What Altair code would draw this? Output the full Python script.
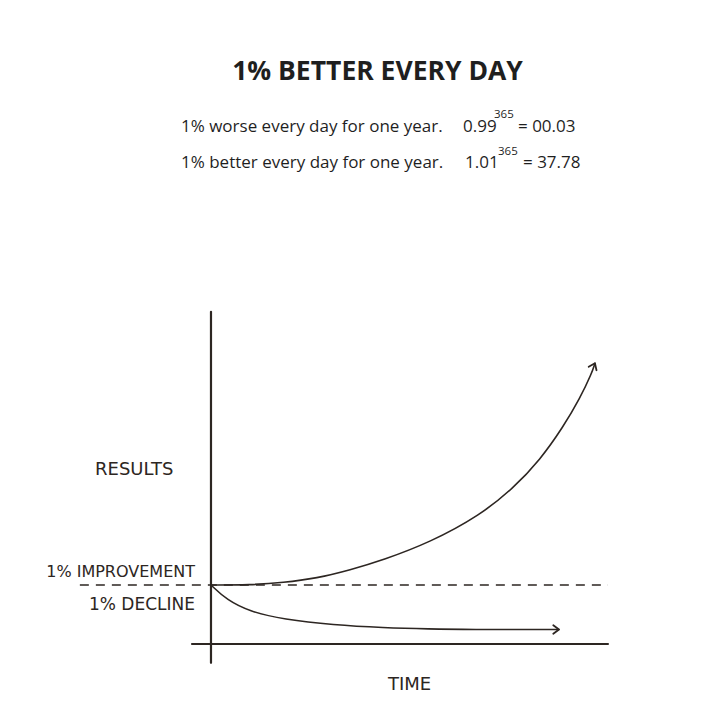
import altair as alt
import pandas as pd

# ---- data (time units, result units; baseline = 1) ----
up_t = [0, 9.9, 18.3, 26.8, 35.2, 43.6, 55.4, 68.1, 76.5, 83.3, 89.2, 93.4, 96.4, 97.2]
up_y = [1.0, 1.0, 1.039, 1.114, 1.254, 1.424, 1.72, 2.18, 2.639, 3.119, 3.683, 4.164, 4.588, 4.758]
down_t = [0, 4.0, 9.9, 18.3, 31.0, 43.6, 55.4, 64.8, 88.1]
down_y = [1.0, 0.746, 0.547, 0.419, 0.322, 0.276, 0.254, 0.245, 0.245]
arrow_t = [97.2, 88.1]
arrow_y = [4.758, 0.245]
arrow_angle = [24, 90]
baseline_t = [-33.2, 100.5]
baseline_y = [1.0, 1.0]
yaxis_t = [0, 0]
yaxis_y = [-0.32, 5.63]
xaxis_t = [-4.8, 100.5]
xaxis_y = [0, 0]

title_text = "1% BETTER EVERY DAY"
row1 = ["1% worse every day for one year.", "0.99", "365", "= 00.03"]
row2 = ["1% better every day for one year.", "1.01", "365", "= 37.78"]
labels = ["RESULTS", "1% IMPROVEMENT", "1% DECLINE", "TIME"]

INK = "#2d2622"
TXT = "#1f1f1f"

xs = alt.Scale(domain=[-51.39, 126.08], nice=False, zero=False)
ys = alt.Scale(domain=[-1.153, 10.78], nice=False, zero=False)

def line_layer(t, y, width=1.6, dash=None, interp="linear"):
    df = pd.DataFrame({"t": t, "y": y, "o": list(range(len(t)))})
    kw = dict(color=INK, strokeWidth=width, interpolate=interp, strokeCap="round")
    if dash:
        kw["strokeDash"] = dash
        kw["strokeCap"] = "butt"
    return alt.Chart(df).mark_line(**kw).encode(
        x=alt.X("t:Q", scale=xs, axis=None),
        y=alt.Y("y:Q", scale=ys, axis=None),
        order="o:Q",
    )

layers = [
    line_layer(yaxis_t, yaxis_y, 2.2),
    line_layer(xaxis_t, xaxis_y, 2.2),
    line_layer(baseline_t, baseline_y, 1.6, [9, 7]),
    line_layer(up_t, up_y, 1.6, interp="basis"),
    line_layer(down_t, down_y, 1.6, interp="basis"),
]

arrows = pd.DataFrame({"t": arrow_t, "y": arrow_y, "a": arrow_angle})
layers.append(
    alt.Chart(arrows).mark_point(
        shape="M-0.75,1L0,0L0.75,1", size=130, filled=False, color=INK,
        strokeWidth=1.8, opacity=1, strokeCap="round", strokeJoin="round",
    ).encode(
        x=alt.X("t:Q", scale=xs, axis=None),
        y=alt.Y("y:Q", scale=ys, axis=None),
        angle=alt.Angle("a:Q", scale=None),
    )
)

def text_layer(txt, x, y, size, align="left", weight="normal", font="Open Sans", color=TXT):
    return alt.Chart(pd.DataFrame({"s": [txt]})).mark_text(
        align=align, baseline="alphabetic", fontSize=size, fontWeight=weight,
        font=font, color=color,
    ).encode(text="s:N", x=alt.value(x), y=alt.value(y))

layers.append(text_layer(title_text, 369.5, 72, 26.5, "center", "bold"))
for row, by, sup_y, xs_ in [(row1, 124, 110, (173, 455, 486, 510)),
                            (row2, 160, 147, (173, 457, 490, 515))]:
    layers.append(text_layer(row[0], xs_[0], by, 17))
    layers.append(text_layer(row[1], xs_[1], by, 17))
    layers.append(text_layer(row[2], xs_[2], sup_y, 11.5))
    layers.append(text_layer(row[3], xs_[3], by, 17))

HAND = "DejaVu Sans"
layers.append(text_layer(labels[0], 87, 467, 18, "left", "normal", HAND, INK))
layers.append(text_layer(labels[1], 187, 569, 16, "right", "normal", HAND, INK))
layers.append(text_layer(labels[2], 187, 602, 17, "right", "normal", HAND, INK))
layers.append(text_layer(labels[3], 380, 682, 18, "left", "normal", HAND, INK))

chart = alt.layer(*layers).properties(
    width=701, height=704, padding=0,
    autosize=alt.AutoSizeParams(type="none"),
    background="white",
).configure_view(stroke=None)

chart.save("out.html", embed_options={"renderer": "svg", "actions": False})
